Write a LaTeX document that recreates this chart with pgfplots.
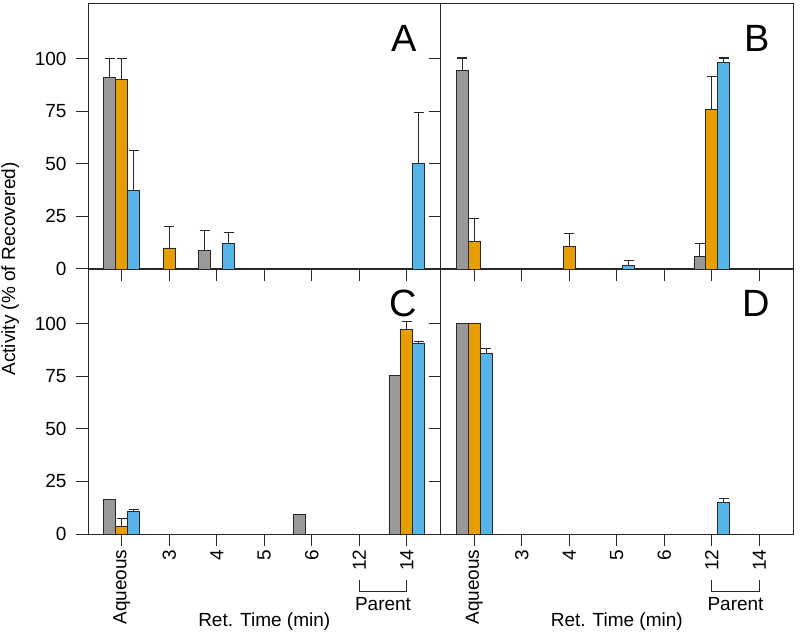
\documentclass[border=0pt]{standalone}
\usepackage{fontspec}
\setmainfont{Liberation Sans}
\usepackage{pgfplots}
\pgfplotsset{compat=1.18}
\definecolor{cgray}{RGB}{153,153,153}
\definecolor{corange}{RGB}{230,159,0}
\definecolor{cblue}{RGB}{86,180,233}
\definecolor{axc}{RGB}{40,40,40}
\pgfplotsset{
  panel/.style={
    scale only axis, width=352.5pt, height=265pt, anchor=south west,
    xmin=-0.71, xmax=6.71, ymin=0, ymax=126,
    xtick={0,...,6}, ytick={0,25,50,75,100},
    tick align=outside, tick pos=left, major tick length=12pt,
    every tick/.style={axc, line width=1pt},
    axis line style={axc, line width=1pt},
    ybar, bar width=0.25,
    ticklabel style={font=\fontsize{19}{21}\selectfont},
    yticklabel style={xshift=-6pt},
    /pgf/number format/assume math mode=true,
    clip=false,
  },
  eb/.style={error bars/.cd, y dir=plus, y explicit,
    error bar style={axc, line width=1.1pt},
    error mark options={axc, line width=1.1pt, mark size=5pt, rotate=90}},
  g/.style={fill=cgray, draw=axc, line width=0.9pt, bar shift=-0.25},
  o/.style={fill=corange, draw=axc, line width=0.9pt, bar shift=0},
  b/.style={fill=cblue, draw=axc, line width=0.9pt, bar shift=0.25},
  bottomlabels/.style={xticklabels={Aqueous,3,4,5,6,12,14},
    xticklabel style={rotate=90, anchor=east}},
}
\tikzset{letter/.style={anchor=base east, inner sep=0pt, xshift=-23pt, yshift=-47.7pt, font=\fontsize{38}{40}\selectfont}}
\newcommand{\bottomdeco}{%
  \draw[axc, line width=1pt] (axis cs:5,-21.8) -- (axis cs:5,-27.5) -- (axis cs:6,-27.5) -- (axis cs:6,-21.8);
  \node[anchor=base, inner sep=0pt, font=\fontsize{19}{21}\selectfont] at (axis cs:5.5,-36.5) {Parent};
  \node[anchor=base, inner sep=0pt, font=\fontsize{19}{21}\selectfont, yshift=-92.7pt] at (rel axis cs:0.5,0) {Ret. Time (min)};
}
\begin{document}
\begin{tikzpicture}
\useasboundingbox (0,0) rectangle (800pt,635pt);
\node[rotate=90, anchor=base, inner sep=0pt, font=\fontsize{19}{21}\selectfont] at (15pt,366pt) {Activity (\% of Recovered)};
% Panel A
\begin{axis}[panel, at={(88pt,366pt)}, xticklabels={}]
\addplot[g, eb] coordinates {(0,91) +- (0,9) (2,9) +- (0,9.2)};
\addplot[o, eb] coordinates {(0,90) +- (0,10) (1,10) +- (0,10)};
\addplot[b, eb] coordinates {(0,37.3) +- (0,19) (2,12) +- (0,5.5) (6,50.3) +- (0,24.3)};
\node[letter] at (rel axis cs:1,1) {A};
\end{axis}
% Panel B
\begin{axis}[panel, at={(440.5pt,366pt)}, xticklabels={}, yticklabels={}]
\addplot[g, eb] coordinates {(0,94.3) +- (0,6) (5,5.9) +- (0,6.1)};
\addplot[o, eb] coordinates {(0,13.2) +- (0,10.6) (2,10.8) +- (0,5.9) (5,75.7) +- (0,15.9)};
\addplot[b, eb] coordinates {(3,1.8) +- (0,2.3) (5,98.1) +- (0,2.2)};
\node[letter] at (rel axis cs:1,1) {B};
\end{axis}
% Panel C
\begin{axis}[panel, at={(88pt,101pt)}, bottomlabels]
\addplot[g] coordinates {(0,16.5) (4,9.2) (6,75.5)};
\addplot[o, eb] coordinates {(0,3.6) +- (0,3.7) (6,97.1) +- (0,3.8)};
\addplot[b, eb] coordinates {(0,10.5) +- (0,1.1) (6,90.6) +- (0,1)};
\node[letter] at (rel axis cs:1,1) {C};
\bottomdeco
\end{axis}
% Panel D
\begin{axis}[panel, at={(440.5pt,101pt)}, bottomlabels, yticklabels={}]
\addplot[g] coordinates {(0,100)};
\addplot[o] coordinates {(0,100)};
\addplot[b, eb] coordinates {(0,86) +- (0,2) (5,14.8) +- (0,1.9)};
\node[letter] at (rel axis cs:1,1) {D};
\bottomdeco
\end{axis}
\end{tikzpicture}
\end{document}
